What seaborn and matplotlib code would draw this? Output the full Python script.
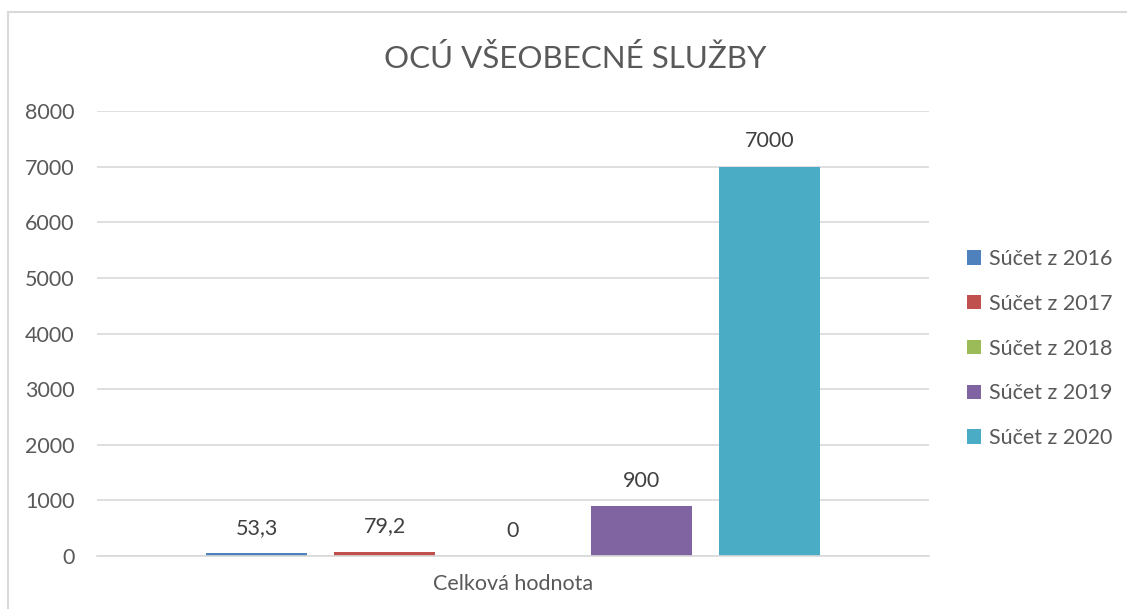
import matplotlib
matplotlib.use("Agg")
import matplotlib.pyplot as plt
import matplotlib.patches as mpatches
import seaborn as sns
import pandas as pd

# ---- data ----
title = "OCÚ VŠEOBECNÉ SLUŽBY"
category = ["Celková hodnota"]
series = ["Súčet z 2016", "Súčet z 2017", "Súčet z 2018", "Súčet z 2019", "Súčet z 2020"]
values = [53.3, 79.2, 0, 900, 7000]
colors = ["#4F81BD", "#C0504D", "#9BBB59", "#8064A2", "#4BACC6"]
yticks = [0, 1000, 2000, 3000, 4000, 5000, 6000, 7000, 8000]

df = pd.DataFrame({"category": category * len(series), "series": series, "value": values})

sns.set_theme(style="white")
plt.rcParams["font.family"] = ["Lato", "DejaVu Sans"]

TXT = "#595959"
GRID = "#D9D9D9"

fig = plt.figure(figsize=(11.27, 6.09), dpi=100)
ax = fig.add_axes([97 / 1127, 1 - 556 / 609, (929 - 97) / 1127, (556 - 111) / 609])

sns.barplot(data=df, x="category", y="value", hue="series", hue_order=series,
            palette=colors, width=0.77, gap=0.21, saturation=1, legend=False,
            linewidth=0, ax=ax)

ax.set_xlim(-0.5, 0.5)
ax.set_ylim(0, 8000)
ax.set_yticks(yticks)
ax.set_yticklabels([str(t) for t in yticks])
ax.grid(axis="y", color=GRID, linewidth=1.2)
ax.set_axisbelow(True)
for s in ["top", "right", "left"]:
    ax.spines[s].set_visible(False)
ax.spines["bottom"].set_color(GRID)
ax.spines["bottom"].set_linewidth(1.2)
ax.tick_params(axis="y", length=0, pad=16, labelsize=15.5, labelcolor=TXT)
ax.tick_params(axis="x", length=0, pad=13, labelsize=15.5, labelcolor=TXT)
ax.set_xlabel("")
ax.set_ylabel("")

def fmt(v):
    return f"{v:g}".replace(".", ",")

for cont, v in zip(ax.containers, values):
    ax.bar_label(cont, labels=[fmt(v)], padding=11, fontsize=15.5, color="#404040")

fig.text(575 / 1127, 1 - 58 / 609, title, ha="center", va="center", fontsize=22.5, color=TXT)

handles = [mpatches.Patch(facecolor=c, edgecolor="none", label=l) for c, l in zip(colors, series)]
leg = fig.legend(handles=handles, loc="upper left", bbox_to_anchor=(967 / 1127, 1 - 249 / 609),
                 frameon=False, fontsize=15.5, labelcolor=TXT, handlelength=0.65, handleheight=0.65,
                 handletextpad=0.35, labelspacing=1.15, borderpad=0, borderaxespad=0)

# chart border (top and left visible)
fig.add_artist(mpatches.Rectangle((8 / 1127, -0.2), 1.5, 1.2 - 12 / 609,
                                  transform=fig.transFigure, fill=False,
                                  edgecolor=GRID, linewidth=1.5))

fig.savefig("out.png", dpi=100)
